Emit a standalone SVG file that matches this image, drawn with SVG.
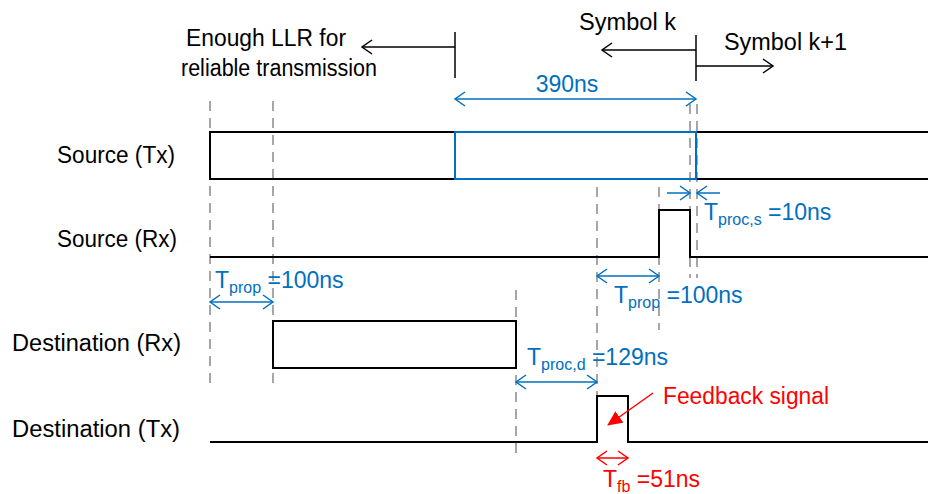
<svg xmlns="http://www.w3.org/2000/svg" width="928" height="494" viewBox="0 0 928 494">
<style>
  text { font-family: "Liberation Sans", Arial, sans-serif; }
  .lbl { font-size: 23.5px; fill: #000; }
  .blu { font-size: 23px; fill: #0070C0; }
  .red { font-size: 23px; fill: #FF0000; }
  .sub { font-size: 16px; }
  .sig { fill: none; stroke: #000; stroke-width: 2; }
  .dash { fill: none; stroke: #A6A6A6; stroke-width: 2; stroke-dasharray: 10 7; }
  .bk { fill: none; stroke: #000; stroke-width: 1.5; }
  .bl { fill: none; stroke: #0070C0; stroke-width: 1.5; }
  .rd { fill: none; stroke: #FF0000; stroke-width: 1.5; }
</style>
<defs>
  <marker id="ahK" markerUnits="userSpaceOnUse" markerWidth="14" markerHeight="16" refX="11" refY="8" orient="auto-start-reverse">
    <path d="M1,1 L11,8 L1,15" fill="none" stroke="#000" stroke-width="1.5"/>
  </marker>
  <marker id="ahB" markerUnits="userSpaceOnUse" markerWidth="14" markerHeight="16" refX="11" refY="8" orient="auto-start-reverse">
    <path d="M1,1 L11,8 L1,15" fill="none" stroke="#0070C0" stroke-width="1.5"/>
  </marker>
  <marker id="ahR" markerUnits="userSpaceOnUse" markerWidth="14" markerHeight="16" refX="11" refY="8" orient="auto-start-reverse">
    <path d="M1,1 L11,8 L1,15" fill="none" stroke="#FF0000" stroke-width="1.5"/>
  </marker>
  <marker id="ahRf" markerUnits="userSpaceOnUse" markerWidth="16" markerHeight="14" refX="14" refY="7" orient="auto">
    <path d="M0,0 L15,7 L0,14 Z" fill="#FF0000"/>
  </marker>
</defs>

<!-- row labels -->
<g id="labels">
  <text class="lbl" x="57" y="163" textLength="118" lengthAdjust="spacingAndGlyphs">Source (Tx)</text>
  <text class="lbl" x="57" y="247" textLength="120" lengthAdjust="spacingAndGlyphs">Source (Rx)</text>
  <text class="lbl" x="12" y="351" textLength="169" lengthAdjust="spacingAndGlyphs">Destination (Rx)</text>
  <text class="lbl" x="12" y="437" textLength="168" lengthAdjust="spacingAndGlyphs">Destination (Tx)</text>
</g>

<!-- dashed guide lines -->
<g id="guides">
  <line class="dash" x1="210" y1="101" x2="210" y2="389"/>
  <line class="dash" x1="273" y1="101" x2="273" y2="389"/>
  <line class="dash" x1="690" y1="104" x2="690" y2="278"/>
  <line class="dash" x1="697" y1="104" x2="697" y2="278"/>
  <line class="dash" x1="597" y1="187" x2="597" y2="397"/>
  <line class="dash" x1="659" y1="187" x2="659" y2="330"/>
  <line class="dash" x1="516" y1="290" x2="516" y2="455"/>
</g>

<!-- signals -->
<g id="source-tx">
  <path class="sig" d="M455,132 H210 V179 H455"/>
  <rect x="455" y="132" width="241" height="47" fill="none" stroke="#0070C0" stroke-width="2"/>
  <path class="sig" d="M697,132 H928 M697,179 H928"/>
</g>
<g id="source-rx">
  <path class="sig" d="M210,257 H659 V210 H690 V257 H928"/>
</g>
<g id="destination-rx">
  <rect class="sig" x="273" y="321" width="243" height="47"/>
</g>
<g id="destination-tx">
  <path class="sig" d="M210,442 H597 V396 H628 V442 H928"/>
</g>

<!-- top annotations -->
<g id="top-annotations">
  <text class="lbl" x="186" y="46" textLength="160" lengthAdjust="spacingAndGlyphs">Enough LLR for</text>
  <text class="lbl" x="181" y="76" textLength="196" lengthAdjust="spacingAndGlyphs">reliable transmission</text>
  <line class="bk" x1="455" y1="32" x2="455" y2="78"/>
  <line class="bk" x1="455" y1="47" x2="362" y2="47" marker-end="url(#ahK)"/>

  <text class="lbl" x="579" y="30" textLength="97" lengthAdjust="spacingAndGlyphs">Symbol k</text>
  <text class="lbl" x="724" y="50" textLength="123" lengthAdjust="spacingAndGlyphs">Symbol k+1</text>
  <line class="bk" x1="696" y1="35" x2="696" y2="81"/>
  <line class="bk" x1="696" y1="50" x2="602" y2="50" marker-end="url(#ahK)"/>
  <line class="bk" x1="696" y1="66" x2="773" y2="66" marker-end="url(#ahK)"/>
</g>

<!-- connectors / timing annotations -->
<g id="connectors">
  <line class="bl" x1="455" y1="99" x2="696" y2="99" marker-start="url(#ahB)" marker-end="url(#ahB)"/>
  <line class="bl" x1="667" y1="193" x2="690" y2="193" marker-end="url(#ahB)"/>
  <line class="bl" x1="720" y1="193" x2="697" y2="193" marker-end="url(#ahB)"/>
  <line class="bl" x1="210" y1="302" x2="273" y2="302" marker-start="url(#ahB)" marker-end="url(#ahB)"/>
  <line class="bl" x1="597" y1="276" x2="659" y2="276" marker-start="url(#ahB)" marker-end="url(#ahB)"/>
  <line class="bl" x1="516" y1="382" x2="597" y2="382" marker-start="url(#ahB)" marker-end="url(#ahB)"/>
  <line class="rd" x1="597" y1="458" x2="628" y2="458" marker-start="url(#ahR)" marker-end="url(#ahR)"/>
  <line class="rd" x1="653" y1="393" x2="608" y2="425" marker-end="url(#ahRf)"/>
</g>

<!-- timing labels -->
<g id="timing-labels">
  <text class="blu" x="567" y="92" text-anchor="middle">390ns</text>
  <text class="blu" x="704" y="220">T<tspan class="sub" dy="5">proc,s</tspan><tspan dy="-5"> =10ns</tspan></text>
  <text class="blu" x="215" y="288">T<tspan class="sub" dy="5">prop</tspan><tspan dy="-5"> =100ns</tspan></text>
  <text class="blu" x="614" y="303">T<tspan class="sub" dy="5">prop</tspan><tspan dy="-5"> =100ns</tspan></text>
  <text class="blu" x="527" y="365">T<tspan class="sub" dy="5">proc,d</tspan><tspan dy="-5"> =129ns</tspan></text>
  <text class="red" x="603" y="487">T<tspan class="sub" dy="5">fb</tspan><tspan dy="-5"> =51ns</tspan></text>
  <text class="red" x="663" y="404" textLength="166" lengthAdjust="spacingAndGlyphs">Feedback signal</text>
</g>
</svg>
